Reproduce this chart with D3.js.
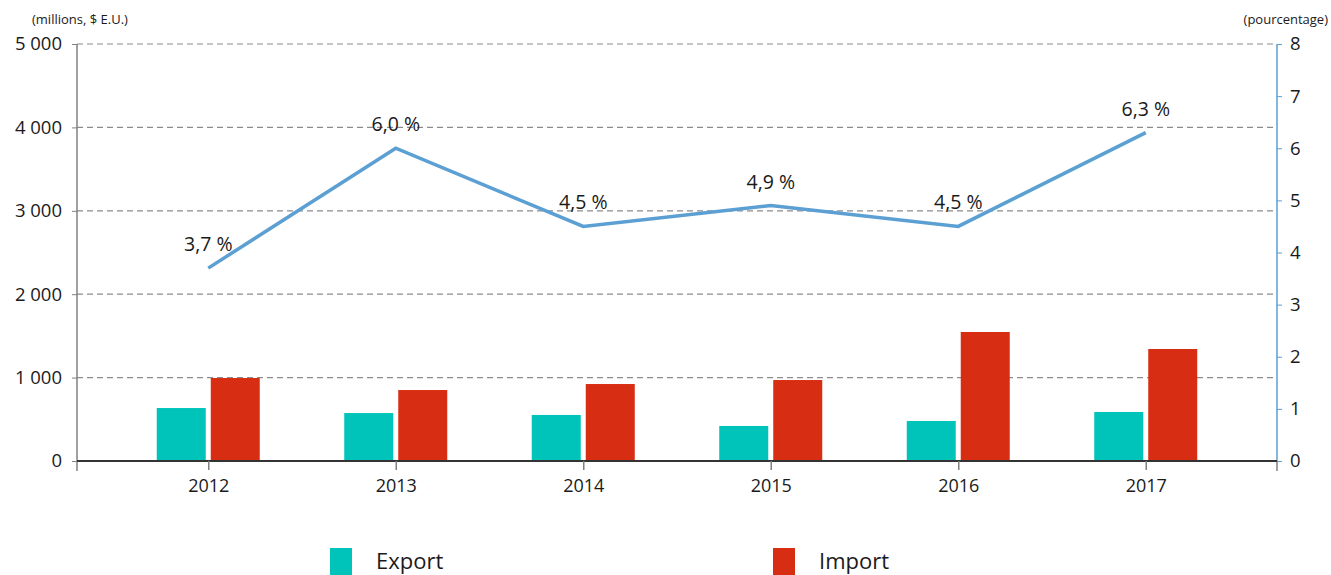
<!DOCTYPE html>
<html>
<head>
<meta charset="utf-8">
<script src="https://cdn.jsdelivr.net/npm/d3@7"></script>
<style>
  body { margin: 0; background: #fff; }
  text { font-family: "Open Sans", sans-serif; fill: #1a1a1a; }
</style>
</head>
<body>
<script>
var width = 1331, height = 575

var years = ["2012", "2013", "2014", "2015", "2016", "2017"];
var exportVals = [635, 575, 552, 420, 480, 588];
var importVals = [995, 851, 923, 971, 1547, 1343];
var pctVals = [3.7, 6.0, 4.5, 4.9, 4.5, 6.3];
var leftTicks = [0, 1000, 2000, 3000, 4000, 5000];
var rightTicks = [0, 1, 2, 3, 4, 5, 6, 7, 8];

var colExport = "#00c4b9", colImport = "#d72e13", colLine = "#5b9fd3";

var svg = d3.select("body")
    .append("svg")
    .attr("width", width)
    .attr("height", height);

// plot edges (window.top is reserved, so use own names)
var pLeft = 77, pRight = 1277, pTop = 44, pBottom = 461;

var x = d3.scalePoint().domain(years).range([pLeft, pRight]).padding(0.7);
var y = d3.scaleLinear().domain([0, 5000]).range([pBottom, pTop]);
var y2 = d3.scaleLinear().domain([0, 8]).range([pBottom, pTop]);

var fmt = function(d){ return d3.format(",")(d).replace(",", " "); };

// grid
svg.selectAll(".grid")
    .data(leftTicks.filter(function(d){ return d > 0; }))
  .enter().append("line")
    .attr("x1", pLeft).attr("x2", pRight)
    .attr("y1", function(d){ return y(d); })
    .attr("y2", function(d){ return y(d); })
    .attr("stroke", "#8c8c8c")
    .attr("stroke-width", 1.2)
    .attr("stroke-dasharray", "6,4");

// bars
var bw = 49, gap = 5;
svg.selectAll(".exp")
    .data(exportVals)
  .enter().append("rect")
    .attr("x", function(d, i){ return x(years[i]) - gap / 2 - bw; })
    .attr("y", function(d){ return y(d); })
    .attr("width", bw)
    .attr("height", function(d){ return pBottom - y(d); })
    .attr("fill", colExport);
svg.selectAll(".imp")
    .data(importVals)
  .enter().append("rect")
    .attr("x", function(d, i){ return x(years[i]) + gap / 2; })
    .attr("y", function(d){ return y(d); })
    .attr("width", bw)
    .attr("height", function(d){ return pBottom - y(d); })
    .attr("fill", colImport);

// left axis
var gl = svg.append("g")
    .attr("transform", "translate(" + pLeft + ",0)")
    .call(d3.axisLeft(y).tickValues(leftTicks).tickFormat(fmt).tickSize(5).tickPadding(10));
gl.select(".domain").attr("stroke", "#808080").attr("stroke-width", 1.5).attr("d", "M0," + pTop + "V" + (pBottom + 10));
gl.selectAll(".tick line").attr("stroke", "#808080");
gl.selectAll(".tick text").style("font-size", "18.5px").attr("fill", "#1a1a1a");

// right axis
var gr = svg.append("g")
    .attr("transform", "translate(" + pRight + ",0)")
    .call(d3.axisRight(y2).tickValues(rightTicks).tickSize(5).tickPadding(8));
gr.select(".domain").attr("stroke", colLine).attr("stroke-width", 1.5).attr("d", "M0," + pTop + "V" + pBottom);
gr.selectAll(".tick line").attr("stroke", colLine);
gr.selectAll(".tick text").style("font-size", "18.5px").attr("fill", "#1a1a1a");
svg.append("line")
    .attr("x1", pRight).attr("x2", pRight)
    .attr("y1", pBottom).attr("y2", pBottom + 10)
    .attr("stroke", "#808080").attr("stroke-width", 1.5);

// x axis
var gx = svg.append("g")
    .attr("transform", "translate(0," + pBottom + ")")
    .call(d3.axisBottom(x).tickSize(9).tickPadding(9));
gx.select(".domain").attr("stroke", "#333").attr("stroke-width", 1.8).attr("d", "M" + pLeft + ",0H" + pRight);
gx.selectAll(".tick line").attr("stroke", "#808080").attr("stroke-width", 1.5);
gx.selectAll(".tick text").style("font-size", "18px").attr("fill", "#1a1a1a");

// line
var line = d3.line()
    .x(function(d, i){ return x(years[i]); })
    .y(function(d){ return y2(d); });
svg.append("path")
    .datum(pctVals)
    .attr("d", line)
    .attr("fill", "none")
    .attr("stroke", colLine)
    .attr("stroke-width", 3.5);

svg.selectAll(".lbl")
    .data(pctVals)
  .enter().append("text")
    .attr("x", function(d, i){ return x(years[i]); })
    .attr("y", function(d){ return y2(d) - 17; })
    .attr("text-anchor", "middle")
    .style("font-size", "19.5px")
    .text(function(d){ return d3.format(".1f")(d).replace(".", ",") + " %"; });

// axis titles
svg.append("text").attr("x", 32).attr("y", 24).style("font-size", "13px").text("(millions, $ E.U.)");
svg.append("text").attr("x", 1328).attr("y", 24).attr("text-anchor", "end").style("font-size", "13px").text("(pourcentage)");

// legend
var legend = [["Export", colExport, 330], ["Import", colImport, 773]];
legend.forEach(function(l){
  svg.append("rect").attr("x", l[2]).attr("y", 548).attr("width", 22).attr("height", 27).attr("fill", l[1]);
  svg.append("text").attr("x", l[2] + 46).attr("y", 569).style("font-size", "22px").text(l[0]);
});
</script>
</body>
</html>
